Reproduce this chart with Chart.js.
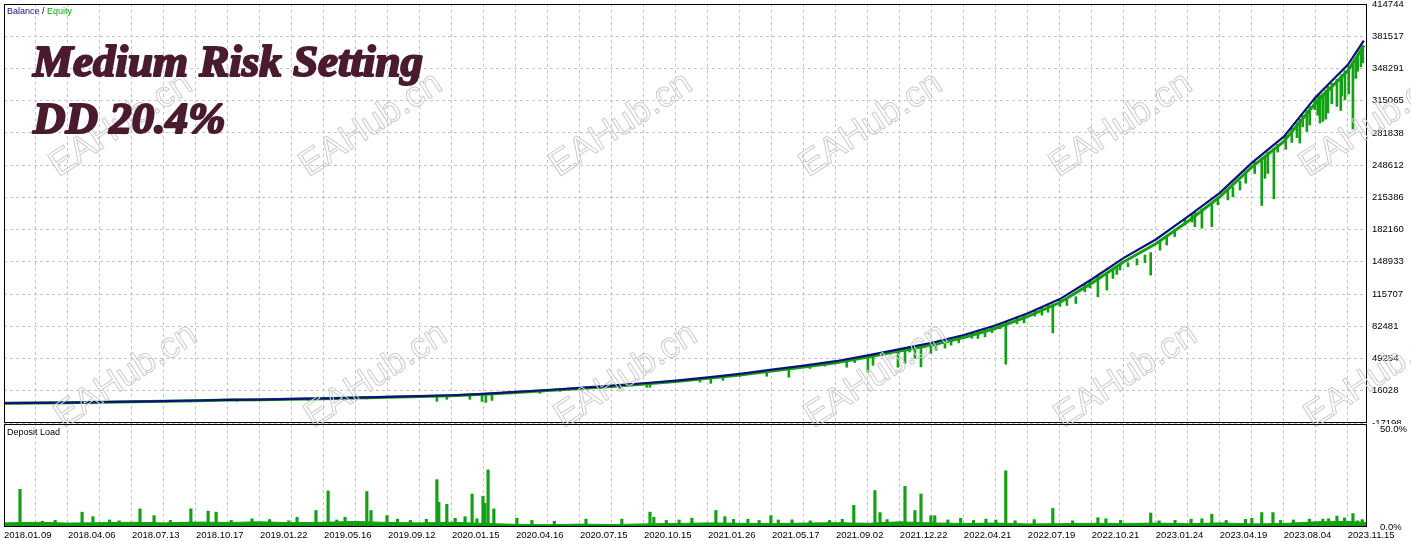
<!DOCTYPE html>
<html lang="en">
<head>
<meta charset="UTF-8">
<title>Balance / Equity</title>
<script src="https://cdn.jsdelivr.net/npm/chart.js"></script>
<style>
    body { margin: 0; background: #fff; }
    #wrap { position: relative; width: 1411px; height: 541px; }
    #wrap canvas { position: absolute; left: 0; top: 0; }
</style>
</head>
<body>
<div id="wrap">
    <canvas id="mainChart" width="1411" height="541"></canvas>
    <canvas id="loadChart" width="1411" height="541"></canvas>
</div>
<script>
// tick labels
var dateLabels = ['2018.01.09', '2018.04.06', '2018.07.13', '2018.10.17', '2019.01.22', '2019.05.16',
    '2019.09.12', '2020.01.15', '2020.04.16', '2020.07.15', '2020.10.15', '2021.01.26', '2021.05.17',
    '2021.09.02', '2021.12.22', '2022.04.21', '2022.07.19', '2022.10.21', '2023.01.24', '2023.04.19',
    '2023.08.04', '2023.11.15'];
var yTicks = [-17198, 16028, 49254, 82481, 115707, 148933, 182160, 215386, 248612, 281838, 315065, 348291, 381517, 414744];
var loadTicks = [0, 50];

// balance / equity, one point per grid step (x = grid step)
var balanceX = [0, 1, 2, 3, 4, 5, 6, 7, 8, 9, 10, 11, 12, 13, 14, 15, 16, 17, 18, 19, 20, 21,
    22, 23, 24, 25, 26, 27, 28, 29, 30, 31, 32, 33, 34, 35, 36, 37, 38, 39, 40, 41, 42, 42.5];
var balance = [3300, 3500, 3900, 4400, 4900, 5400, 6000, 6600, 7000, 7600, 8200, 8900, 9700, 10500,
    11400, 12900, 14800, 16800, 19000, 21300, 23800, 26500, 29800, 33500, 37800, 42000, 46500, 52500,
    59000, 65500, 73500, 83500, 96000, 110500, 131000, 153000, 172000, 195500, 220000, 251000, 278000,
    319000, 352000, 377000];
var equity = [3200, 3400, 3800, 4200, 4700, 5200, 5800, 6400, 6800, 7300, 7900, 8600, 9300, 10100,
    11000, 12400, 14300, 16200, 18300, 20500, 23000, 25600, 28800, 32400, 36500, 40600, 45000, 50800,
    57000, 63300, 71000, 80500, 92800, 107000, 127000, 149000, 167500, 190500, 216000, 246500, 273000,
    313000, 346000, 372000];

// equity drawdown spikes: position, lowest equity, balance at that moment
var dipX = [5.81, 7.28, 9.5, 11.34, 13.53, 13.84, 14.56, 14.94, 15.06, 15.25, 16.75, 17.38, 18.63,
    19.25, 20.09, 20.19, 21.75, 22.09, 22.47, 23.0, 23.84, 24.53, 25.19, 25.66, 26.34, 26.59, 27.0,
    27.16, 27.94, 28.16, 28.3, 28.47, 28.66, 28.97, 29.13, 29.41, 29.6, 29.84, 30.25, 30.44, 30.66,
    30.88, 31.13, 31.31, 31.66, 31.88, 32.22, 32.44, 32.63, 32.78, 33.0, 33.22, 33.5, 33.78, 33.94,
    34.19, 34.47, 34.66, 34.78, 34.88, 35.13, 35.41, 35.66, 35.84, 36.13, 36.34, 36.59, 36.91, 37.13,
    37.22, 37.44, 37.75, 37.94, 38.25, 38.41, 38.63, 38.81, 39.09, 39.31, 39.41, 39.5, 39.69, 39.81,
    40.06, 40.25, 40.41, 40.5, 40.59, 40.72, 40.81, 40.97, 41.06, 41.13, 41.22, 41.31, 41.38, 41.5,
    41.66, 41.78, 41.81, 41.91, 42.03, 42.16, 42.25, 42.31, 42.41, 42.47];
var dipLow = [4500, 5200, 6300, 7600, 5100, 7200, 7200, 5100, 4100, 6100, 13400, 15500, 18200,
    18500, 19600, 19600, 25000, 23700, 26800, 31000, 31000, 30000, 39000, 41500, 40300, 45000, 35100,
    42300, 40300, 44100, 56000, 49500, 40600, 54700, 57800, 60000, 63000, 65400, 70200, 70000, 71600,
    76000, 80000, 43400, 85000, 86000, 93000, 94000, 97000, 75700, 103000, 104000, 106000, 118000, 122000,
    112900, 119800, 131900, 136000, 140500, 143900, 145700, 148000, 135300, 161000, 166300, 175000, 187000, 190000,
    185200, 183600, 185200, 207700, 212800, 216000, 223000, 230000, 240000, 207000, 235000, 240000, 214000, 262000,
    265000, 272000, 277000, 271400, 288000, 283400, 290000, 305800, 300000, 292000, 293700, 296000, 302400, 312000,
    309200, 305000, 320000, 316200, 322000, 285900, 338000, 345400, 350000, 354100];
var dipHigh = [5900, 6700, 7800, 9100, 11100, 11300, 12000, 12800, 13000, 13300, 16300, 17600, 20400,
    21900, 24000, 24300, 28700, 30100, 31500, 33500, 37100, 40000, 42800, 44800, 48500, 50000, 52500,
    53500, 58500, 60400, 61500, 62400, 63600, 65300, 66500, 68500, 69500, 72200, 75500, 77500, 79700,
    81500, 85000, 87500, 92000, 94500, 99000, 101500, 104000, 105500, 110500, 110500, 113000, 126000, 130000,
    134000, 137000, 141000, 144000, 145500, 148000, 152000, 156000, 158500, 170000, 174500, 182000, 193000, 197500,
    200000, 203500, 210000, 214000, 222500, 226000, 232000, 242000, 252000, 256000, 258000, 262000, 266000, 270000,
    280000, 287000, 292000, 296000, 300000, 305000, 309000, 318000, 320000, 321000, 323000, 326000, 330000, 333000,
    337000, 340000, 342000, 346000, 351000, 355000, 358000, 362000, 366000, 372000];

// deposit load (%)
var loadX = [0, 1, 2, 3, 4, 5, 6, 7, 8, 9, 10, 11, 12, 13, 14, 15, 16, 17, 18, 19, 20, 21,
    22, 23, 24, 25, 26, 27, 28, 29, 30, 31, 32, 33, 34, 35, 36, 37, 38, 39, 40, 41, 42, 42.6];
var loadBase = [2.0, 2.3, 1.9, 2.1, 2.3, 2.0, 2.4, 2.2, 2.5, 2.1, 2.3, 2.7, 2.2, 2.0, 2.3, 1.7, 1.3, 1.1,
    1.4, 1.2, 1.5, 1.7, 2.0, 1.8, 1.6, 1.9, 2.1, 1.8, 2.5, 2.0, 1.7, 1.9, 1.5, 1.6, 1.8, 1.7, 1.9, 1.6,
    2.0, 1.5, 1.7, 2.5, 2.7, 2.1];
var spikeX = [0.5, 1.2, 1.6, 2.44, 2.78, 3.3, 3.6, 4.25, 4.69, 5.2, 5.84, 6.38, 6.63, 7.1, 7.75, 8.3,
    8.9, 9.16, 9.75, 10.13, 10.4, 10.66, 11.34, 11.47, 11.97, 12.3, 12.7, 13.2, 13.53, 13.59, 13.84,
    14.1, 14.41, 14.63, 14.78, 14.97, 15.03, 15.13, 15.31, 16.03, 16.5, 17.2, 18.19, 19.31, 20.19,
    20.31, 20.7, 21.1, 21.5, 22.25, 22.53, 22.8, 23.25, 23.6, 23.97, 24.2, 24.63, 25.2, 25.8, 26.2,
    26.56, 27.22, 27.38, 27.6, 28.16, 28.47, 28.66, 28.97, 29.09, 29.5, 29.9, 30.3, 30.69, 31.0,
    31.31, 31.6, 32.2, 32.78, 33.4, 34.19, 34.44, 34.9, 35.84, 36.1, 36.6, 37.1, 37.44, 37.75, 38.2,
    38.8, 39.0, 39.31, 39.66, 39.9, 40.3, 40.8, 41.22, 41.4, 41.66, 41.9, 42.16, 42.31, 42.45];
var spikeLoad = [18.3, 2.8, 3.2, 7.2, 5, 3.4, 3.0, 8.8, 5.5, 3.2, 8.8, 7.7, 7.2, 3.2, 4, 3.6,
    3.0, 4.7, 8, 17.5, 3.4, 4.7, 17.2, 8, 5.5, 3.8, 3.2, 3.7, 23, 12, 11,
    4.2, 5, 16, 4, 15, 11.5, 27.7, 8.8, 4.3, 3.2, 2.8, 3.8, 3.8, 7.2,
    4.7, 3.2, 3.4, 4.3, 8, 5, 3.7, 3.8, 3.2, 5.5, 3.4, 3.5, 3.0, 3.2, 3.7,
    10.5, 17.7, 7, 3.6, 19.7, 8, 16, 5.5, 5.5, 3.4, 4.2, 3.2, 3.8, 3.4,
    27.3, 3.0, 3.6, 9, 3.0, 4.5, 4, 3.2, 6.8, 3.0, 3.2, 3.8, 4, 6.2, 3.2,
    3.7, 4.2, 7, 7, 3.2, 3.4, 3.8, 3.8, 4.0, 5.3, 4.4, 6.5, 3, 3.6];

var navy = '#10107a';
var green = '#14a014';
var gridColor = '#c4c4c4';
var titleColor = '#4a1b2f';

Chart.defaults.font.family = '"Liberation Sans", Arial, sans-serif';
Chart.defaults.color = '#000';

function gridSteps(scale) {
    var t = [];
    for (var i = 0; i <= (dateLabels.length - 1) * 2; i++) t.push({ value: i });
    scale.ticks = t;
}

function drawFrame(chart) {
    var a = chart.chartArea, ctx = chart.ctx;
    var l = Math.round(a.left), t = Math.round(a.top), r = Math.round(a.right), b = Math.round(a.bottom);
    ctx.save();
    ctx.strokeStyle = '#000';
    ctx.lineWidth = 1;
    ctx.strokeRect(l + 0.5, t + 0.5, r - l - 1, b - t - 1);
    ctx.restore();
}

var mainDecor = {
    id: 'mainDecor',
    afterDraw: function(chart) {
        var ctx = chart.ctx;
        drawFrame(chart);
        ctx.save();
        // watermark
        ctx.font = '36px "Liberation Sans"';
        ctx.strokeStyle = '#cdcdcd';
        ctx.lineWidth = 1;
        ctx.textAlign = 'center';
        ctx.textBaseline = 'middle';
        [[121, 125], [126, 376]].forEach(function(row) {
            for (var k = 0; k < 6; k++) {
                ctx.save();
                ctx.translate(row[0] + 250 * k, row[1]);
                ctx.rotate(-33 * Math.PI / 180);
                ctx.strokeText('EAHub.cn', 0, 0);
                ctx.restore();
            }
        });
        // legend text
        ctx.textAlign = 'left';
        ctx.font = '9px "Liberation Sans"';
        var x = 7;
        ctx.fillStyle = navy;
        ctx.fillText('Balance', x, 12);
        x += ctx.measureText('Balance ').width;
        ctx.fillStyle = '#000';
        ctx.fillText('/', x, 12);
        x += ctx.measureText('/ ').width;
        ctx.fillStyle = green;
        ctx.fillText('Equity', x, 12);
        // title, heavy face
        ctx.textBaseline = 'alphabetic';
        ctx.fillStyle = titleColor;
        ctx.strokeStyle = titleColor;
        ctx.lineWidth = 2.2;
        ctx.lineJoin = 'round';
        ctx.font = 'italic bold 45px "Liberation Serif"';
        ctx.strokeText('Medium Risk Setting', 33, 76);
        ctx.fillText('Medium Risk Setting', 33, 76);
        ctx.strokeText('DD 20.4%', 33, 133);
        ctx.fillText('DD 20.4%', 33, 133);
        ctx.restore();
    }
};

var loadDecor = {
    id: 'loadDecor',
    beforeDraw: function(chart) {
        var ctx = chart.ctx;
        ctx.save();
        ctx.fillStyle = '#fff';
        ctx.fillRect(chart.chartArea.right, chart.chartArea.top, 1411 - chart.chartArea.right, 541 - chart.chartArea.top);
        ctx.restore();
    },
    afterDraw: function(chart) {
        var ctx = chart.ctx;
        drawFrame(chart);
        ctx.save();
        ctx.font = '9px "Liberation Sans"';
        ctx.fillStyle = '#000';
        ctx.textBaseline = 'middle';
        ctx.fillText('Deposit Load', 7, 433);
        ctx.restore();
    }
};

new Chart(document.getElementById('mainChart').getContext('2d'), {
    type: 'bar',
    data: {
        datasets: [{
            type: 'line',
            label: 'Balance',
            data: balanceX.map(function(x, i) { return { x: x, y: balance[i] }; }),
            borderColor: navy,
            borderWidth: 2.2,
            pointRadius: 0,
            tension: 0,
            order: 0
        }, {
            type: 'bar',
            label: 'Equity drawdown',
            data: dipX.map(function(x, i) { return { x: x, y: [dipLow[i], dipHigh[i]] }; }),
            backgroundColor: green,
            borderWidth: 0,
            barThickness: 2,
            grouped: false,
            order: 1
        }, {
            type: 'line',
            label: 'Equity',
            data: balanceX.map(function(x, i) { return { x: x, y: equity[i] }; }),
            borderColor: green,
            borderWidth: 3,
            pointRadius: 0,
            tension: 0,
            order: 2
        }]
    },
    options: {
        responsive: false,
        animation: false,
        layout: { padding: { left: 4, top: 4, right: 0, bottom: 118 } },
        plugins: { legend: { display: false }, tooltip: { enabled: false } },
        scales: {
            x: {
                type: 'linear', min: 0, max: 42.6, offset: false,
                afterBuildTicks: gridSteps,
                ticks: { display: false },
                grid: { color: gridColor, drawTicks: false, offset: false },
                border: { display: false, dash: [3, 3] },
                afterFit: function(s) { s.height = 0; s.paddingLeft = 0; s.paddingRight = 0; }
            },
            y: {
                position: 'right', min: -17198, max: 414744,
                afterBuildTicks: function(s) { s.ticks = yTicks.map(function(v) { return { value: v }; }); },
                ticks: { padding: 5, font: { size: 9.5 }, callback: function(v) { return String(v); } },
                grid: { color: gridColor, drawTicks: false },
                border: { display: false, dash: [3, 3] },
                afterFit: function(s) { s.width = 44; s.paddingTop = 0; s.paddingBottom = 0; }
            }
        }
    },
    plugins: [mainDecor]
});

new Chart(document.getElementById('loadChart').getContext('2d'), {
    type: 'bar',
    data: {
        datasets: [{
            type: 'bar',
            label: 'Deposit Load',
            data: spikeX.map(function(x, i) { return { x: x, y: spikeLoad[i] }; }),
            backgroundColor: green,
            borderWidth: 0,
            barThickness: 2.5,
            grouped: false,
            order: 0
        }, {
            type: 'line',
            label: 'Deposit Load base',
            data: loadX.map(function(x, i) { return { x: x, y: loadBase[i] }; }),
            borderColor: green,
            backgroundColor: green,
            borderWidth: 1,
            pointRadius: 0,
            tension: 0,
            fill: 'origin',
            order: 1
        }]
    },
    options: {
        responsive: false,
        animation: false,
        layout: { padding: { left: 4, top: 424, right: 0, bottom: 0 } },
        plugins: { legend: { display: false }, tooltip: { enabled: false } },
        scales: {
            x: {
                type: 'linear', min: 0, max: 42.6, offset: false,
                afterBuildTicks: gridSteps,
                ticks: {
                    autoSkip: false, maxRotation: 0, minRotation: 0, align: 'start', padding: 3,
                    font: { size: 9.5 },
                    callback: function(v) { return v % 2 === 0 ? dateLabels[v / 2] : ''; }
                },
                grid: { color: gridColor, drawTicks: false, offset: false },
                border: { display: false, dash: [3, 3] },
                afterFit: function(s) { s.height = 14; s.paddingLeft = 0; s.paddingRight = 0; }
            },
            y: {
                position: 'right', min: 0, max: 50,
                afterBuildTicks: function(s) { s.ticks = loadTicks.map(function(v) { return { value: v }; }); },
                ticks: {
                    padding: 5, font: { size: 9.5 },
                    // top label sits just inside the panel
                    callback: function(v) { return v === 50 ? ['', v.toFixed(1) + '%'] : v.toFixed(1) + '%'; }
                },
                grid: { display: false },
                border: { display: false },
                afterFit: function(s) { s.width = 44; s.paddingTop = 0; s.paddingBottom = 0; }
            }
        }
    },
    plugins: [loadDecor]
});
</script>
</body>
</html>
